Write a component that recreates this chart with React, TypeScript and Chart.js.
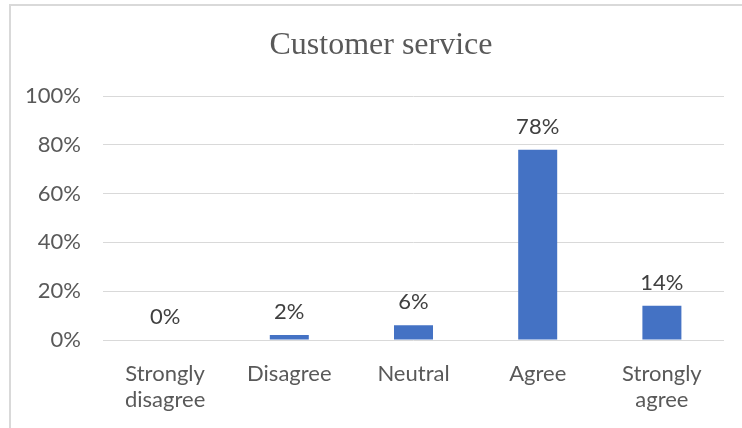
import React, { useEffect, useRef } from "react";
import { Chart, registerables } from "chart.js";

Chart.register(...registerables);

const TITLE = "Customer service";
const categories: (string | string[])[] = [
  ["Strongly", "disagree"],
  "Disagree",
  "Neutral",
  "Agree",
  ["Strongly", "agree"],
];
const percentValues = [0, 2, 6, 78, 14];
const yTicksMin = 0;
const yTicksMax = 100;
const yTickStep = 20;

const BAR_COLOR = "#4472C4";
const TEXT_COLOR = "#595959";
const LABEL_COLOR = "#404040";
const GRID_COLOR = "#d9d9d9";
const SANS = "Lato, 'Liberation Sans', sans-serif";

const titlePlugin = {
  id: "centerTitle",
  afterDraw(chart: any) {
    const ctx = chart.ctx;
    ctx.save();
    ctx.font = "32px 'Liberation Serif', 'Times New Roman', serif";
    ctx.fillStyle = TEXT_COLOR;
    ctx.textAlign = "center";
    ctx.textBaseline = "middle";
    ctx.fillText(TITLE, chart.width / 2, 41);
    ctx.restore();
  },
};

const dataLabelPlugin = {
  id: "barValueLabels",
  afterDatasetsDraw(chart: any) {
    const ctx = chart.ctx;
    const meta = chart.getDatasetMeta(0);
    const data = chart.data.datasets[0].data as number[];
    ctx.save();
    ctx.font = `22px ${SANS}`;
    ctx.fillStyle = LABEL_COLOR;
    ctx.textAlign = "center";
    ctx.textBaseline = "alphabetic";
    meta.data.forEach((bar: any, i: number) => {
      ctx.fillText(`${data[i]}%`, bar.x, bar.y - 16);
    });
    ctx.restore();
  },
};

export default function App() {
  const canvasRef = useRef<HTMLCanvasElement | null>(null);

  useEffect(() => {
    if (!canvasRef.current) return;
    const chart = new Chart(canvasRef.current, {
      type: "bar",
      data: {
        labels: categories,
        datasets: [
          {
            data: percentValues,
            backgroundColor: BAR_COLOR,
            categoryPercentage: 0.314,
            barPercentage: 1,
          },
        ],
      },
      options: {
        responsive: false,
        animation: false,
        layout: { padding: { left: 0, right: 28, top: 91, bottom: 0 } },
        plugins: {
          legend: { display: false },
          title: { display: false },
          tooltip: { enabled: false },
        },
        scales: {
          x: {
            grid: { display: false, drawTicks: false },
            border: { display: false },
            ticks: {
              color: TEXT_COLOR,
              font: { family: SANS, size: 22, lineHeight: 1.18 },
              padding: 21,
              maxRotation: 0,
              autoSkip: false,
            },
            afterFit(scale: any) {
              scale.height = 88;
            },
          },
          y: {
            min: yTicksMin,
            max: yTicksMax,
            grid: { color: GRID_COLOR, lineWidth: 1, drawTicks: false },
            border: { display: false },
            ticks: {
              stepSize: yTickStep,
              color: TEXT_COLOR,
              font: { family: SANS, size: 22 },
              padding: 22,
              callback: (v: any) => `${v}%`,
            },
            afterFit(scale: any) {
              scale.width = 93;
            },
          },
        },
      },
      plugins: [titlePlugin, dataLabelPlugin],
    });
    return () => chart.destroy();
  }, []);

  return (
    <div
      style={{
        position: "absolute",
        left: 0,
        top: 0,
        width: 742,
        height: 428,
        overflow: "hidden",
        background: "#fff",
      }}
    >
      <div
        style={{
          position: "absolute",
          left: 9,
          top: 4,
          width: 780,
          height: 460,
          border: `2px solid ${GRID_COLOR}`,
          boxSizing: "border-box",
        }}
      />
      <canvas
        ref={canvasRef}
        width={742}
        height={423}
        style={{ position: "absolute", left: 10, top: 5, width: 742, height: 423 }}
      />
    </div>
  );
}
